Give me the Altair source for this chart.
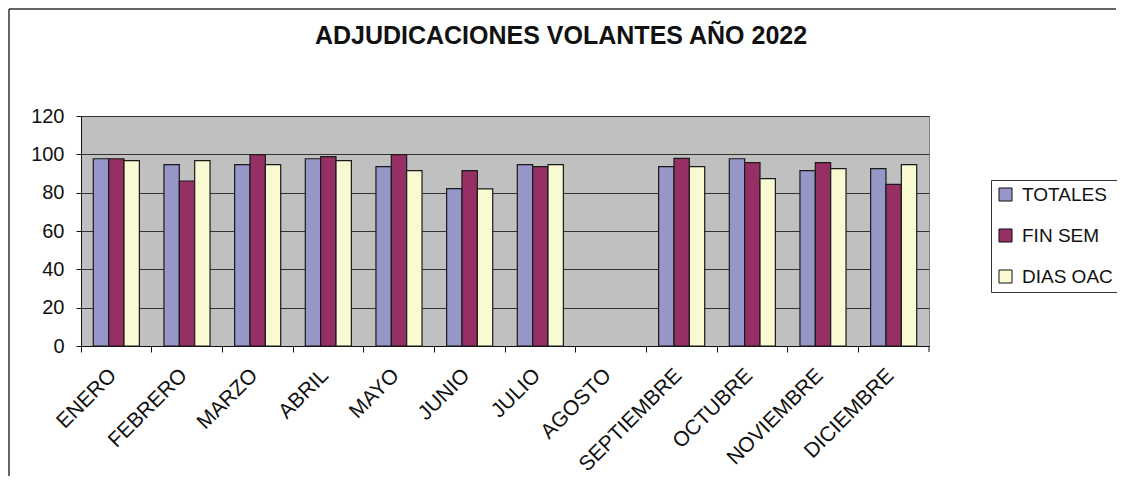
import altair as alt
import pandas as pd

months = ["ENERO", "FEBRERO", "MARZO", "ABRIL", "MAYO", "JUNIO", "JULIO",
          "AGOSTO", "SEPTIEMBRE", "OCTUBRE", "NOVIEMBRE", "DICIEMBRE"]
series = ["TOTALES", "FIN SEM", "DIAS OAC"]
totales = [97.7, 94.6, 94.6, 97.7, 93.6, 82.1, 94.6, None, 93.6, 97.7, 91.5, 92.5]
fin_sem = [97.7, 86.1, 99.8, 98.8, 99.8, 91.5, 93.6, None, 97.9, 95.7, 95.7, 84.3]
dias_oac = [96.7, 96.7, 94.6, 96.7, 91.5, 82.0, 94.6, None, 93.6, 87.3, 92.5, 94.6]
y_ticks = [0, 20, 40, 60, 80, 100, 120]
colors = ["#9696C8", "#962F64", "#FAFAD2"]
title_text = "ADJUDICACIONES VOLANTES AÑO 2022"

rows = []
for s, vals in zip(series, [totales, fin_sem, dias_oac]):
    for m, v in zip(months, vals):
        if v is not None:
            rows.append({"mes": m, "serie": s, "valor": v})
df = pd.DataFrame(rows)

W, H = 848, 230
PAD = {"left": 73, "top": 108, "right": 188, "bottom": 130}
FONT = "Liberation Sans"

bars = alt.Chart(df).mark_bar(stroke="#1a1a1a", strokeWidth=1.2).encode(
    x=alt.X("mes:N", sort=months,
            scale=alt.Scale(domain=months, paddingInner=0, paddingOuter=0),
            axis=alt.Axis(title=None, labelAngle=-45, labelAlign="right",
                          labelBaseline="middle", bandPosition=0,
                          labelFont=FONT, labelFontSize=21, labelColor="#111",
                          labelPadding=20, labelOffset=-3, tickSize=6,
                          tickColor="#111", domainColor="#111",
                          labelOverlap=False, labelLimit=0)),
    xOffset=alt.XOffset("serie:N", sort=series,
                        scale=alt.Scale(domain=series, paddingInner=0, paddingOuter=0.8)),
    y=alt.Y("valor:Q", scale=alt.Scale(domain=[0, 120], nice=False),
            axis=alt.Axis(title=None, values=y_ticks, grid=True, gridColor="#333",
                          gridWidth=1, labelFont=FONT, labelFontSize=20,
                          labelColor="#111", tickSize=5, tickColor="#111",
                          domainColor="#111", labelPadding=12)),
    color=alt.Color("serie:N", sort=series,
                    scale=alt.Scale(domain=series, range=colors),
                    legend=alt.Legend(title=None, orient="none", legendX=910, legendY=64,
                                      strokeColor="#333", fillColor="white",
                                      padding=5, rowPadding=21, symbolType="square",
                                      symbolSize=170, symbolStrokeColor="#111",
                                      symbolStrokeWidth=1, labelFont=FONT,
                                      labelFontSize=19, labelColor="#111",
                                      labelOffset=7)),
)

one = pd.DataFrame({"k": [0]})
last_tick = alt.Chart(one).mark_rule(color="#111").encode(
    x=alt.value(W), y=alt.value(H), y2=alt.value(H + 6))

right_edge = W + PAD["right"] - 1
bottom_edge = H + PAD["bottom"]
frame_top = alt.Chart(one).mark_rule(color="#333", strokeWidth=1.5).encode(
    x=alt.value(-72), x2=alt.value(right_edge), y=alt.value(-107))
frame_left = alt.Chart(one).mark_rule(color="#333", strokeWidth=1.5).encode(
    x=alt.value(-72), y=alt.value(-107), y2=alt.value(bottom_edge))

chart = alt.layer(bars, last_tick, frame_top, frame_left).properties(
    width=W, height=H,
    padding=PAD,
    autosize=alt.AutoSizeParams(type="none"),
    title=alt.TitleParams(title_text, font=FONT, fontSize=25, fontWeight="bold",
                          color="#111", anchor="middle", frame="group", dx=56,
                          offset=-41),
).configure_view(fill="#C0C0C0", stroke="#808080")

chart.save("out.html", embed_options={"renderer": "svg", "actions": False})
